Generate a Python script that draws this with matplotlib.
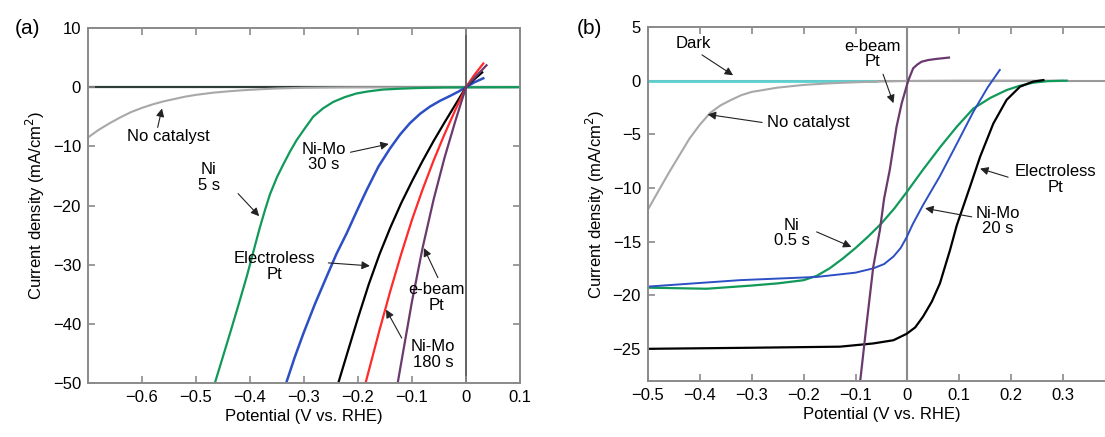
import numpy as np
import matplotlib.pyplot as plt

plt.rcParams['font.family'] = ['Liberation Sans', 'DejaVu Sans']
plt.rcParams['font.size'] = 12

# ---- panel (a) data, potential (V vs RHE) / current density (mA/cm2)
nocat_a_v = [-0.7, -0.68, -0.66, -0.64, -0.62, -0.6, -0.58, -0.56, -0.54, -0.52, -0.5,
             -0.47, -0.44, -0.41, -0.38, -0.35, -0.3, -0.25, -0.2, 0.1]
nocat_a_j = [-8.5, -7.2, -6.1, -5.1, -4.2, -3.5, -2.9, -2.4, -2.0, -1.6, -1.3,
             -0.95, -0.7, -0.5, -0.35, -0.22, -0.1, -0.05, -0.02, 0]
ni_a_v = [-0.465, -0.451, -0.437, -0.421, -0.406, -0.392, -0.382, -0.372, -0.363, -0.35,
          -0.338, -0.326, -0.314, -0.298, -0.283, -0.265, -0.246, -0.225, -0.203, -0.18,
          -0.153, -0.12, -0.091, -0.04, 0.1]
ni_a_j = [-50, -45.8, -41.6, -36.7, -32, -27.2, -23.8, -20.7, -18.1, -15.2,
          -13.0, -10.9, -9.0, -6.9, -5.0, -3.6, -2.5, -1.7, -1.07, -0.7,
          -0.4, -0.25, -0.15, -0.05, 0]
nimo30_a_v = [-0.333, -0.317, -0.301, -0.28, -0.258, -0.24, -0.221, -0.2, -0.184, -0.162,
              -0.141, -0.122, -0.104, -0.085, -0.067, -0.048, -0.03, -0.014, 0.0, 0.015, 0.032]
nimo30_a_j = [-50, -45.6, -41.6, -36.7, -32, -28.2, -24.7, -20.5, -17.4, -13.4,
              -10.4, -8.0, -6.1, -4.5, -3.3, -2.3, -1.5, -0.75, 0, 0.8, 1.5]
elpt_a_v = [-0.2365, -0.22, -0.2, -0.18, -0.16, -0.14, -0.12, -0.1, -0.08, -0.06,
            -0.04, -0.02, 0.0, 0.015, 0.03]
elpt_a_j = [-50, -45.0, -39.0, -33.3, -28.2, -23.7, -19.6, -15.9, -12.4, -9.1,
            -6.0, -3.0, 0, 1.3, 2.5]
nimo180_a_v = [-0.186, -0.16, -0.14, -0.12, -0.1, -0.08, -0.06, -0.04, -0.02, 0.0, 0.015, 0.032]
nimo180_a_j = [-50, -41.0, -34.4, -28.2, -22.4, -17.2, -12.4, -8.0, -3.9, 0, 2, 4]
ebeam_a_v = [-0.1265, -0.12, -0.1, -0.08, -0.06, -0.04, -0.02, 0.0, 0.02, 0.038]
ebeam_a_j = [-50, -46.6, -36.2, -27.0, -19.0, -12.0, -5.8, 0, 2, 3.7]

# ---- panel (b) data
dark_b_v = [-0.5, -0.06]
dark_b_j = [0, 0]
nocat_b_v = [-0.5, -0.48, -0.46, -0.44, -0.42, -0.4, -0.38, -0.36, -0.34, -0.32, -0.3,
             -0.25, -0.2, -0.15, -0.1, -0.05, 0.0, 0.1, 0.2, 0.3]
nocat_b_j = [-12, -10.3, -8.6, -7.0, -5.4, -4.1, -3.0, -2.3, -1.8, -1.35, -1.05,
             -0.65, -0.4, -0.25, -0.15, -0.08, -0.03, 0, 0, 0]
ebeam_b_v = [-0.0915, -0.079, -0.066, -0.053, -0.045, -0.034, -0.021, -0.011, 0.0015, 0.011,
             0.019, 0.027, 0.04, 0.055, 0.08]
ebeam_b_j = [-28.2, -22.8, -17.4, -13.9, -11.0, -8.3, -4.3, -2.1, 0, 1.15,
             1.5, 1.76, 1.92, 2.02, 2.15]
ni_b_v = [-0.5, -0.387, -0.3, -0.25, -0.2, -0.175, -0.15, -0.125, -0.1, -0.075,
          -0.05, -0.025, 0.0, 0.03, 0.063, 0.095, 0.127, 0.16, 0.191, 0.215, 0.242, 0.27, 0.307]
ni_b_j = [-19.3, -19.4, -19.1, -18.9, -18.6, -18.2, -17.5, -16.6, -15.6, -14.5,
          -13.3, -11.9, -10.3, -8.3, -6.2, -4.3, -2.6, -1.6, -0.88, -0.5, -0.19, -0.05, 0]
nimo_b_v = [-0.5, -0.323, -0.175, -0.1, -0.066, -0.045, -0.027, -0.013, -0.0015, 0.01,
            0.03, 0.0626, 0.095, 0.127, 0.155, 0.178]
nimo_b_j = [-19.2, -18.6, -18.3, -17.9, -17.5, -17.1, -16.4, -15.6, -14.6, -13.4,
            -11.6, -8.9, -5.9, -2.9, -0.6, 1.0]
elpt_b_v = [-0.5, -0.3, -0.13, -0.066, -0.027, -0.0015, 0.015, 0.03, 0.047, 0.0626,
            0.082, 0.095, 0.1205, 0.14, 0.1655, 0.191, 0.217, 0.242, 0.262]
elpt_b_j = [-25, -24.9, -24.8, -24.5, -24.2, -23.6, -23, -22, -20.6, -18.9,
            -15.8, -13.5, -9.9, -7.1, -4.0, -1.8, -0.56, -0.09, 0.05]

GREEN = '#11995a'
BLUE = '#2c4fc4'
RED = '#ff2a2a'
PURPLE = '#6a3a6e'
GREY = '#a8a8a8'
CYAN = '#5fd0d0'
SPINE = '#8a8a8a'

fig = plt.figure(figsize=(11.05, 4.37), dpi=100)
axa = fig.add_axes([88 / 1105, 1 - 383 / 437, 432 / 1105, 355 / 437])
axb = fig.add_axes([648 / 1105, 1 - 381 / 437, 467 / 1105, 354 / 437])


def style(ax):
    for s in ax.spines.values():
        s.set_color(SPINE)
        s.set_linewidth(1.4)
    ax.tick_params(direction='in', top=True, right=True, length=5,
                   width=1.2, color=SPINE, labelsize=12, pad=5)
    ax.set_xlabel('Potential (V vs. RHE)', fontsize=12, labelpad=3)
    ax.set_ylabel('Current density (mA/cm$^2$)', fontsize=12, labelpad=4)


def note(ax, text, xy, xytext, tail):
    ax.text(xytext[0], xytext[1], text, ha='center', va='center',
            fontsize=12, linespacing=1.05)
    ax.annotate('', xy=xy, xytext=tail,
                arrowprops=dict(arrowstyle='-|>', color='#222222', lw=0.8,
                                mutation_scale=12, shrinkA=0, shrinkB=0))


# panel (a)
axa.axhline(0, color='#2e3e36', lw=1.6, zorder=1)
axa.axvline(0, color='#555555', lw=1.3, zorder=1)
axa.plot(nocat_a_v, nocat_a_j, color=GREY, lw=1.5)
axa.plot(ni_a_v, ni_a_j, color=GREEN, lw=1.6)
axa.plot(nimo30_a_v, nimo30_a_j, color=BLUE, lw=1.8)
axa.plot(elpt_a_v, elpt_a_j, color='black', lw=1.6)
axa.plot(nimo180_a_v, nimo180_a_j, color=RED, lw=1.6)
axa.plot(ebeam_a_v, ebeam_a_j, color=PURPLE, lw=1.6)
axa.set_xlim(-0.7, 0.1)
axa.set_ylim(-50, 10)
axa.set_xticks([-0.6, -0.5, -0.4, -0.3, -0.2, -0.1, 0, 0.1])
axa.set_xticklabels(['−0.6', '−0.5', '−0.4', '−0.3', '−0.2', '−0.1', '0', '0.1'])
axa.set_yticks([-50, -40, -30, -20, -10, 0, 10])
style(axa)

note(axa, 'No catalyst', (-0.563, -3.6), (-0.552, -8.4), (-0.571, -6.8))
note(axa, 'Ni\n5 s', (-0.383, -21.8), (-0.476, -15.3), (-0.422, -18.0))
note(axa, 'Ni-Mo\n30 s', (-0.143, -9.6), (-0.263, -11.8), (-0.214, -11.0))
note(axa, 'Electroless\nPt', (-0.178, -30.2), (-0.354, -30.3), (-0.255, -29.7))
note(axa, 'e-beam\nPt', (-0.078, -27.2), (-0.055, -35.6), (-0.052, -32.2))
note(axa, 'Ni-Mo\n180 s', (-0.148, -37.6), (-0.061, -45.2), (-0.119, -42.4))

# panel (b)
axb.axhline(0, color='#9a9a9a', lw=1.5, zorder=1)
axb.axvline(0, color='#8a8a8a', lw=1.5, zorder=1)
axb.plot(dark_b_v, dark_b_j, color=CYAN, lw=2.0)
axb.plot(nocat_b_v, nocat_b_j, color=GREY, lw=1.5)
axb.plot(ni_b_v, ni_b_j, color=GREEN, lw=1.6)
axb.plot(nimo_b_v, nimo_b_j, color=BLUE, lw=1.4)
axb.plot(elpt_b_v, elpt_b_j, color='black', lw=1.6)
axb.plot(ebeam_b_v, ebeam_b_j, color=PURPLE, lw=1.6)
axb.set_xlim(-0.5, 0.4)
axb.set_ylim(-28, 5)
axb.set_xticks([-0.5, -0.4, -0.3, -0.2, -0.1, 0, 0.1, 0.2, 0.3])
axb.set_xticklabels(['−0.5', '−0.4', '−0.3', '−0.2', '−0.1', '0', '0.1', '0.2', '0.3'])
axb.set_yticks([-25, -20, -15, -10, -5, 0, 5])
style(axb)

note(axb, 'Dark', (-0.336, 0.5), (-0.413, 3.5), (-0.396, 2.4))
note(axb, 'e-beam\nPt', (-0.027, -2.1), (-0.068, 2.5), (-0.047, 0.6))
note(axb, 'No catalyst', (-0.385, -3.15), (-0.191, -3.9), (-0.28, -3.9))
note(axb, 'Electroless\nPt', (0.14, -8.2), (0.286, -9.2), (0.194, -9.0))
note(axb, 'Ni-Mo\n20 s', (0.034, -11.9), (0.175, -13.1), (0.124, -12.7))
note(axb, 'Ni\n0.5 s', (-0.108, -15.5), (-0.223, -14.2), (-0.175, -14.1))

fig.text(28 / 1105, 1 - 29 / 437, '(a)', fontsize=15, ha='center', va='center')
fig.text(589 / 1105, 1 - 28 / 437, '(b)', fontsize=15, ha='center', va='center')

fig.savefig('out.png', dpi=100)
